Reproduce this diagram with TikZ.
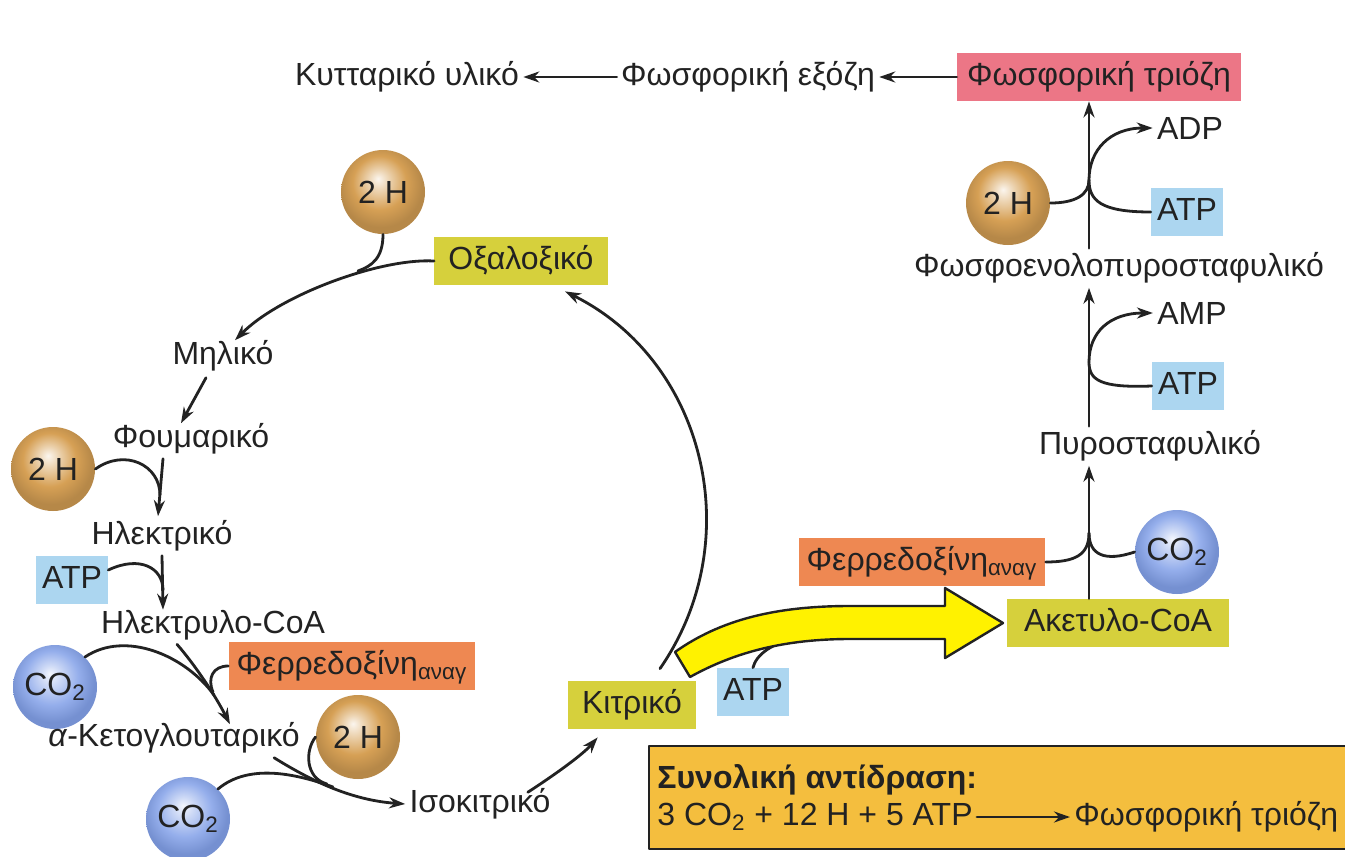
\documentclass[tikz,border=0pt]{standalone}
\usepackage{fontspec}
\setmainfont{Liberation Sans}
\usetikzlibrary{arrows.meta,calc}

\definecolor{olivebox}{RGB}{214,208,60}
\definecolor{atpblue}{RGB}{172,214,240}
\definecolor{ferro}{RGB}{238,136,82}
\definecolor{triosepink}{RGB}{236,118,134}
\definecolor{sumgold}{RGB}{244,190,62}
\definecolor{hbrown}{RGB}{214,160,85}
\definecolor{cblue}{RGB}{130,160,232}
\definecolor{ink}{RGB}{34,34,34}

\pgfdeclareradialshading{hsphere}{\pgfpoint{-3bp}{8bp}}{color(0bp)=(hbrown!10!white); color(6bp)=(hbrown!45!white); color(16bp)=(hbrown); color(25bp)=(hbrown!85!black); color(50bp)=(hbrown!85!black)}
\pgfdeclareradialshading{csphere}{\pgfpoint{-3bp}{8bp}}{color(0bp)=(cblue!10!white); color(6bp)=(cblue!40!white); color(16bp)=(cblue!85!white); color(25bp)=(cblue!90!black); color(50bp)=(cblue!90!black)}

\tikzset{
  metab/.style={font=\fontsize{16}{19}\selectfont, text=ink, inner sep=2pt},
  boxed/.style={metab, inner xsep=7pt, inner ysep=4pt, text height=12pt, text depth=4pt},
  cycbox/.style={boxed, fill=olivebox},
  atpbox/.style={boxed, inner xsep=3pt, fill=atpblue},
  fdxbox/.style={boxed, inner xsep=4pt, fill=ferro},
  hball/.style={circle, minimum size=42pt, inner sep=0pt, shading=hsphere, text=ink, font=\fontsize{16}{19}\selectfont},
  cball/.style={hball, shading=csphere},
  sumbox/.style={draw=ink, line width=1pt, fill=sumgold, inner sep=0pt},
  flow/.style={draw=ink, line width=1.4pt, -{Stealth[length=8pt,width=5.5pt]}},
  feed/.style={draw=ink, line width=1.4pt},
}

\begin{document}
\begin{tikzpicture}[x=0.5pt,y=-0.5pt,line cap=round,line join=round]
  \useasboundingbox[fill=white] (0,0) rectangle (1345,857);

  % top row
  \node[metab] (cell) at (407,77) {Κυτταρικό υλικό};
  \node[metab] (hexose) at (748,77) {Φωσφορική εξόζη};
  \node[boxed,inner xsep=5pt,fill=triosepink] (triose) at (1099,77) {Φωσφορική τριόζη};
  \draw[flow] (hexose) -- (cell);
  \draw[flow] (triose) -- (hexose);

  % right branch
  \node[metab] (adp) at (1190,128) {ADP};
  \node[hball] (h3) at (1008,203) {2 H};
  \node[atpbox] (atp3) at (1187,212) {ATP};
  \node[metab] (pep) at (1119,268) {Φωσφοενολοπυροσταφυλικό};
  \node[metab] (amp) at (1192,313) {AMP};
  \node[atpbox] (atp2) at (1188,386) {ATP};
  \node[metab] (pyr) at (1150,446) {Πυροσταφυλικό};
  \node[fdxbox] (fdx2) at (922,562) {Φερρεδοξίνη\textsubscript{αναγ}};
  \node[cball] (co2b) at (1177,552) {CO\textsubscript{2}};
  \node[cycbox,minimum width=111pt] (acoa) at (1118,623) {Ακετυλο-CoA};
  \coordinate (j1) at (1089,180);
  \coordinate (j2) at (1089,362);
  \coordinate (j3) at (1089,533);
  \draw[flow] (pep.north -| j1) -- (triose.south -| j1);
  \draw[flow] (j1) .. controls (1089,150) and (1110,128) .. (adp.west);
  \draw[feed] (h3.east) .. controls (1075,203) and (1089,195) .. (j1);
  \draw[feed] (atp3.west) .. controls (1100,212) and (1089,200) .. (j1);
  \draw[flow] (pyr.north -| j2) -- (pep.south -| j2);
  \draw[flow] (j2) .. controls (1089,332) and (1110,313) .. (amp.west);
  \draw[feed] (atp2.west) .. controls (1100,388) and (1089,380) .. (j2);
  \draw[flow] (acoa.north -| j3) -- (pyr.south -| j3);
  \draw[feed] (fdx2.east) .. controls (1075,562) and (1089,555) .. (j3);
  \draw[feed] (co2b.west) .. controls (1105,562) and (1089,555) .. (j3);

  % citrate, ATP and the big arrow
  \node[cycbox] (citr) at (632,705) {Κιτρικό};
  \node[atpbox] (atp4) at (753,692) {ATP};
  \coordinate (yb) at (800,638);
  \draw[feed] (atp4.north) .. controls (756,655) and (772,642) .. (yb);
  \draw[line width=1.2pt,draw=ink,fill=yellow] (675,652) .. controls (720,620) and (775,606) .. (850,606)
    -- (945,606) -- (945,588) -- (1003,623) -- (945,658) -- (945,639) -- (850,639)
    .. controls (785,639) and (735,652) .. (690,677) -- cycle;

  % reductive cycle
  \node[cycbox] (oxal) at (521,261) {Οξαλοξικό};
  \node[hball] (h1) at (383,192) {2 H};
  \node[metab] (malic) at (223,356) {Μηλικό};
  \node[metab] (fum) at (191,439) {Φουμαρικό};
  \node[hball] (h2) at (53,469) {2 H};
  \node[metab] (succ) at (162,536) {Ηλεκτρικό};
  \node[atpbox] (atp1) at (72,580) {ATP};
  \node[metab] (scoa) at (213,625) {Ηλεκτρυλο-CoA};
  \node[cball] (co2a) at (55,687) {CO\textsubscript{2}};
  \node[fdxbox] (fdx1) at (352,666) {Φερρεδοξίνη\textsubscript{αναγ}};
  \node[metab] (akg) at (174,738) {\textit{α}-Κετογλουταρικό};
  \node[hball] (h4) at (358,737) {2 H};
  \node[cball] (co2c) at (188,819) {CO\textsubscript{2}};
  \node[metab] (iso) at (480,804) {Ισοκιτρικό};

  \draw[flow] ($(citr.north)+(28,-12)$) .. controls (749,540) and (705,361) .. ($(oxal.south)+(44,6)$);
  \draw[flow] (oxal.west) .. controls (380,258) and (280,295) .. ($(malic.north)+(12,4)$);
  \draw[feed] (h1.south) .. controls (383,258) and (372,266) .. (358,271);
  \draw[flow] ($(malic.south)+(-17,2)$) -- ($(fum.north)+(-10,4)$);
  \draw[flow] ($(fum.south)+(-28,0)$) -- ($(succ.north)+(-4,0)$);
  \draw[feed] (h2.east) .. controls (125,448) and (160,465) .. (160,495);
  \draw[flow] (succ.south) -- ($(scoa.north)+(-50,4)$);
  \draw[feed] ($(atp1.east)+(0,-10)$) .. controls (140,555) and (163,568) .. (163,590);
  \draw[flow] ($(scoa.south)+(-36,0)$) .. controls (195,665) and (215,695) .. ($(akg.north)+(56,6)$);
  \draw[feed] (co2a.north east) .. controls (125,630) and (185,655) .. (214,695);
  \draw[feed] (fdx1.west) .. controls (213,666) and (207,678) .. (213,692);
  \draw[flow] ($(akg.south east)+(-30,0)$) .. controls (310,780) and (350,800) .. (iso.west);
  \draw[feed] (co2c.north east) .. controls (250,762) and (300,775) .. (333,787);
  \draw[feed] (h4.west) .. controls (305,750) and (305,778) .. (327,784);
  \draw[flow] ($(iso.north east)+(-27,8)$) .. controls (565,768) and (585,752) .. ($(citr.south west)+(30,8)$);

  % overall reaction
  \node[sumbox,anchor=north west,minimum width=362pt,minimum height=51.5pt] (total) at (648,745) {};
  \node[metab,font=\fontsize{16}{19}\selectfont\bfseries,anchor=west] (totalhd) at (653,780) {Συνολική αντίδραση:};
  \node[metab,anchor=west] (inputs) at (653,817) {3 CO\textsubscript{2} + 12 H + 5 ATP};
  \node[metab,anchor=west] (product) at (1070,817) {Φωσφορική τριόζη};
  \draw[flow] (inputs) -- (product);
\end{tikzpicture}
\end{document}
